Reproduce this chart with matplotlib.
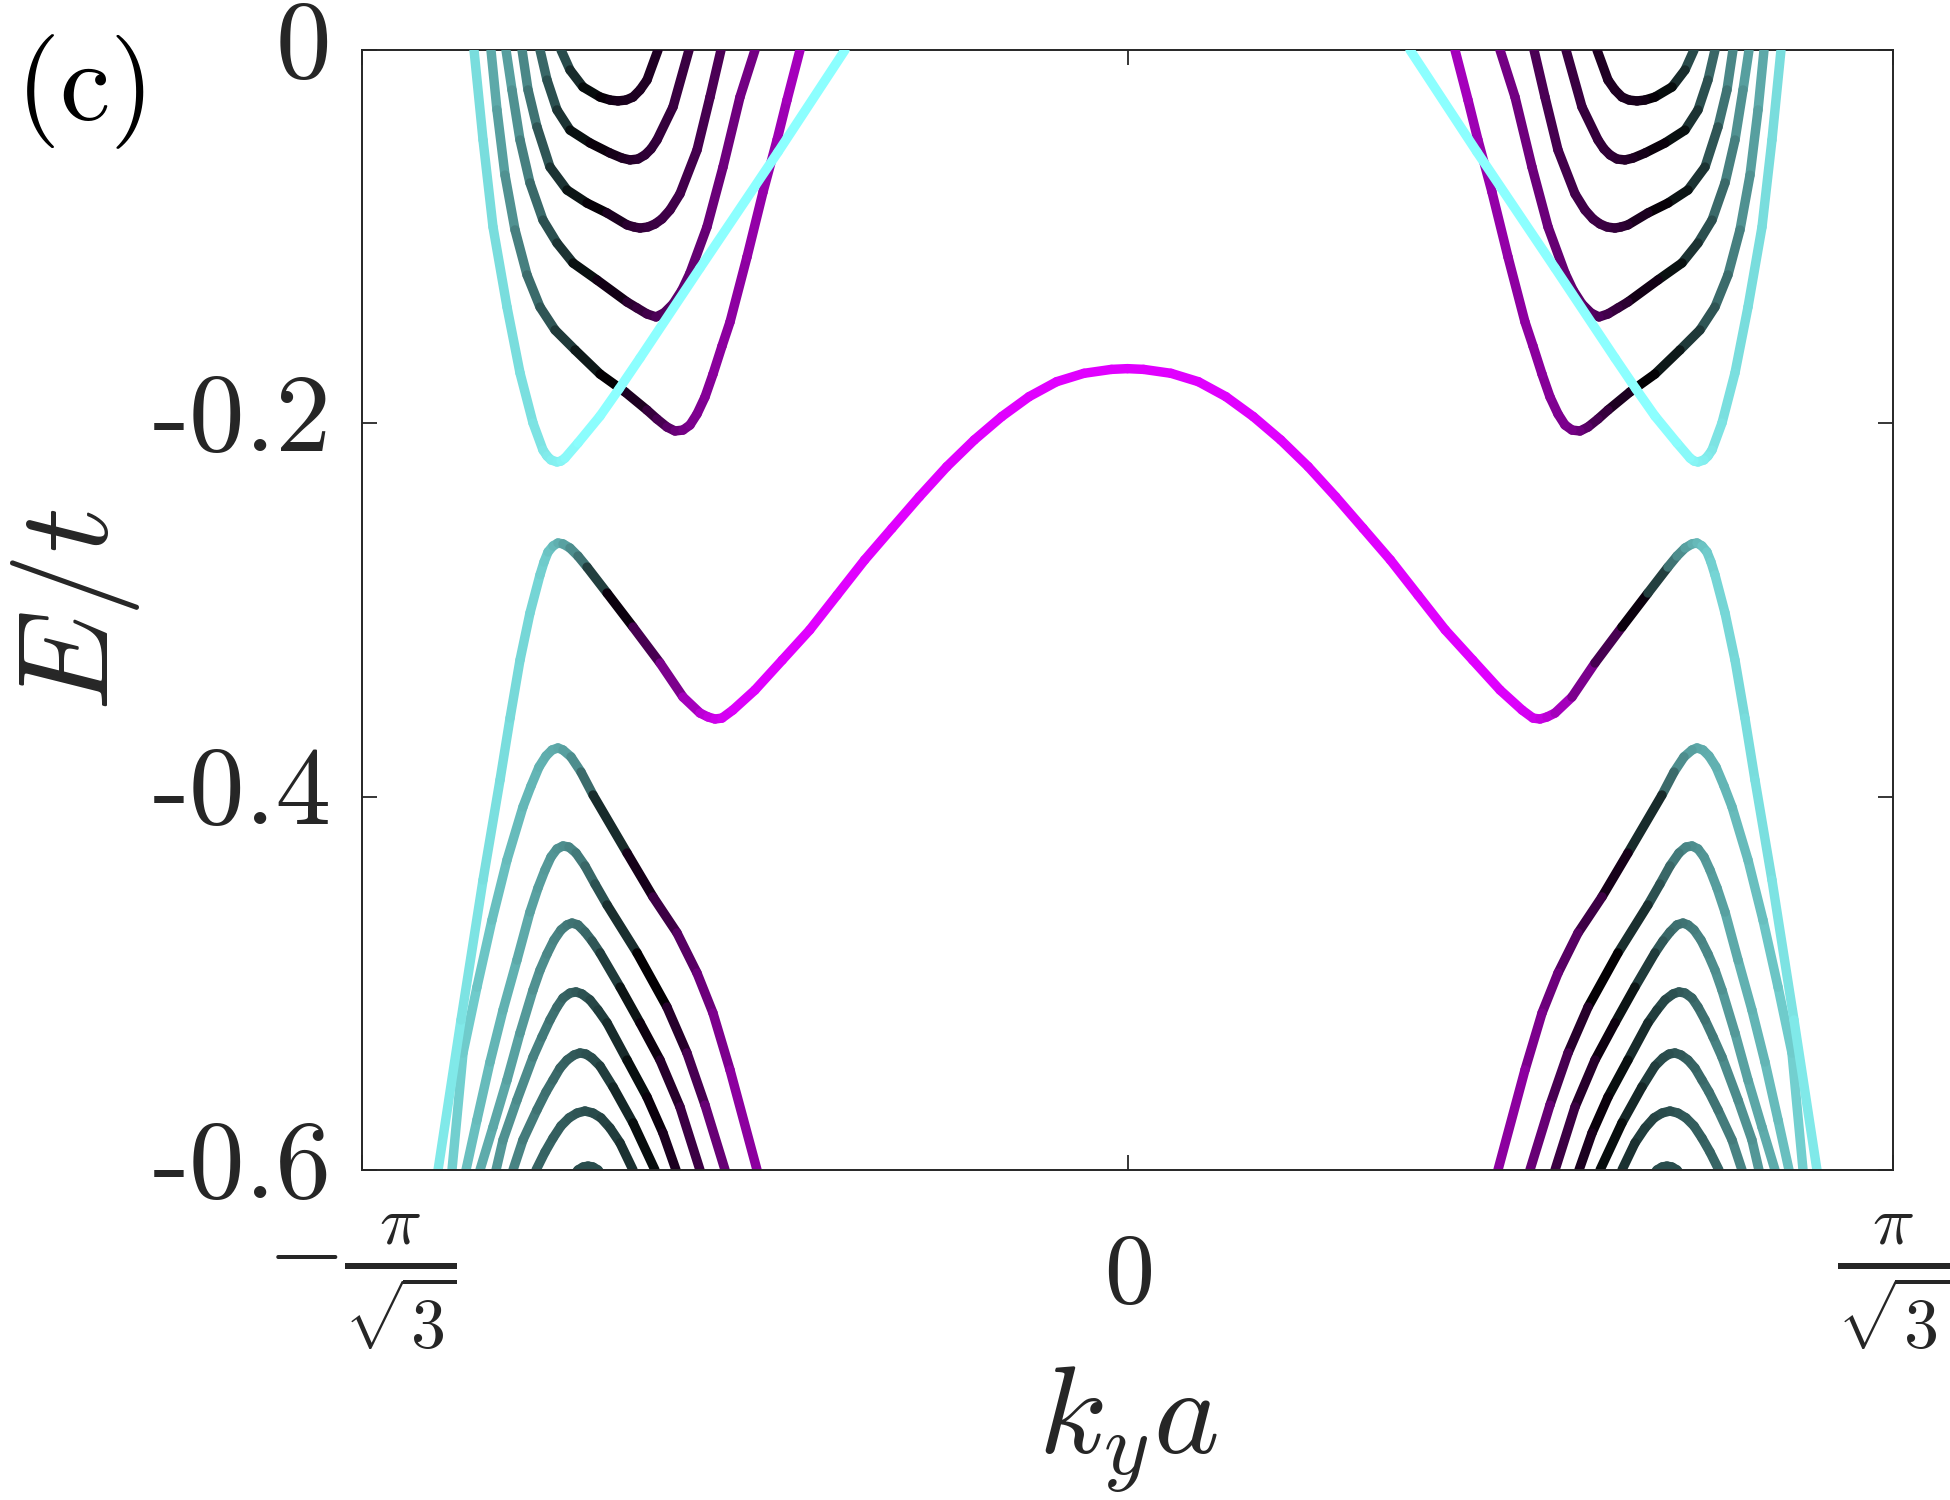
import numpy as np
import matplotlib
matplotlib.use('Agg')
import matplotlib.pyplot as plt
from matplotlib.collections import LineCollection
from matplotlib.colors import LinearSegmentedColormap, Normalize

plt.rcParams['mathtext.fontset'] = 'cm'
plt.rcParams['font.family'] = ['DejaVu Serif']

K_EDGE = np.pi / np.sqrt(3)

# ---- band data, left half (k_y a < 0); right half is the mirror image ----
# c = weight used for the colour (0 = cyan edge, 0.5 = bulk/black, 1 = magenta edge)

# upper bands (cut off at E = 0)
u1_k = [-1.5484, -1.5270, -1.5034, -1.4702, -1.4394, -1.4086, -1.3850, -1.3754, -1.3660, -1.3518,
        -1.3423, -1.3328, -1.3020, -1.2498, -1.2048, -1.1550, -1.0130, -0.8280, -0.6694]
u1_e = [0.0, -0.0482, -0.0948, -0.1377, -0.1730, -0.1998, -0.2143, -0.2175, -0.2196, -0.2207,
        -0.2202, -0.2186, -0.2105, -0.1961, -0.1816, -0.1650, -0.1168, -0.0546, 0.0]
u1_c = [0.07, 0.07, 0.07, 0.07, 0.07, 0.06, 0.05, 0.045, 0.04, 0.03, 0.025, 0.02, 0.01,
        0, 0, 0, 0, 0, 0]

u2_k = [-1.5082, -1.4940, -1.4750, -1.4512, -1.4228, -1.3920, -1.3564, -1.3090, -1.2498, -1.1906,
        -1.1385, -1.1148, -1.0911, -1.0722, -1.0532, -1.0366, -1.0200, -1.0011, -0.9821, -0.9608,
        -0.9418, -0.9016, -0.8636, -0.8304, -0.8068, -0.7760]
u2_e = [0.0, -0.0321, -0.0670, -0.0964, -0.1205, -0.1377, -0.1500, -0.1607, -0.1736, -0.1832,
        -0.1929, -0.1977, -0.2020, -0.2041, -0.2036, -0.2009, -0.1950, -0.1859, -0.1736, -0.1586,
        -0.1457, -0.1109, -0.0761, -0.0482, -0.0268, 0.0]
u2_c = [0.16, 0.18, 0.2, 0.23, 0.27, 0.31, 0.36, 0.42, 0.48, 0.53, 0.6, 0.64, 0.68, 0.72, 0.75,
        0.77, 0.78, 0.79, 0.8, 0.81, 0.81, 0.82, 0.83, 0.84, 0.86, 0.87]

u3_k = [-1.4726, -1.4584, -1.4394, -1.4158, -1.3850, -1.3518, -1.3138, -1.2570, -1.1858, -1.1622,
        -1.1385, -1.1172, -1.0982, -1.0769, -1.0556, -1.0366, -0.9964, -0.9584, -0.9182, -0.8826]
u3_e = [0.0, -0.0214, -0.0482, -0.0712, -0.0911, -0.1034, -0.1141, -0.1232, -0.1350, -0.1382,
        -0.1414, -0.1430, -0.1409, -0.1361, -0.1286, -0.1195, -0.0948, -0.0627, -0.0252, 0.0]
u3_c = [0.18, 0.2, 0.23, 0.27, 0.32, 0.37, 0.43, 0.5, 0.58, 0.61, 0.63, 0.66, 0.68, 0.7, 0.71,
        0.72, 0.73, 0.74, 0.75, 0.76]

u4_k = [-1.4346, -1.4204, -1.3992, -1.3684, -1.3280, -1.2806, -1.2332, -1.1858, -1.1693, -1.1550,
        -1.1361, -1.1195, -1.1030, -1.0840, -1.0604, -1.0200, -0.9892, -0.9632]
u4_e = [0.0, -0.0214, -0.0412, -0.0627, -0.0750, -0.0820, -0.0873, -0.0937, -0.0948, -0.0954,
        -0.0948, -0.0932, -0.0905, -0.0857, -0.0771, -0.0536, -0.0252, 0.0]
u4_c = [0.22, 0.25, 0.3, 0.37, 0.43, 0.49, 0.54, 0.58, 0.6, 0.61, 0.62, 0.63, 0.635, 0.64, 0.645,
        0.65, 0.66, 0.67]

u5_k = [-1.3920, -1.3754, -1.3518, -1.3210, -1.2736, -1.2262, -1.1977, -1.1788, -1.1598, -1.1432,
        -1.1290, -1.1148, -1.0768, -1.0390]
u5_e = [0.0, -0.0161, -0.0321, -0.0429, -0.0498, -0.0552, -0.0579, -0.0589, -0.0584, -0.0562,
        -0.0530, -0.0482, -0.0305, 0.0]
u5_c = [0.28, 0.32, 0.37, 0.43, 0.5, 0.54, 0.56, 0.58, 0.59, 0.6, 0.605, 0.61, 0.62, 0.63]

u6_k = [-1.3423, -1.3210, -1.2902, -1.2498, -1.2262, -1.2072, -1.1883, -1.1716, -1.1550, -1.1385,
        -1.1124]
u6_e = [0.0, -0.0107, -0.0198, -0.0252, -0.0268, -0.0273, -0.0268, -0.0252, -0.0214, -0.0161, 0.0]
u6_c = [0.33, 0.38, 0.45, 0.5, 0.53, 0.55, 0.555, 0.56, 0.565, 0.57, 0.57]

# middle band, left half up to k = 0
m_k = [-1.6336, -1.5792, -1.5270, -1.4868, -1.4630, -1.4394, -1.4158, -1.3920, -1.3825, -1.3730,
       -1.3612, -1.3494, -1.3375, -1.3210, -1.3020, -1.2806, -1.2332, -1.1716, -1.1076, -1.0532,
       -1.0130, -0.9940, -0.9774, -0.9608, -0.9350, -0.8828, -0.8179, -0.7530, -0.6881, -0.6229,
       -0.5580, -0.4931, -0.4281, -0.3630, -0.2981, -0.2331, -0.1680, -0.1031, -0.0381, 0.0]
m_e = [-0.6000, -0.5196, -0.4446, -0.3911, -0.3579, -0.3268, -0.3016, -0.2812, -0.2743, -0.2689,
       -0.2657, -0.2641, -0.2646, -0.2668, -0.2711, -0.2770, -0.2909, -0.3091, -0.3284, -0.3466,
       -0.3552, -0.3573, -0.3584, -0.3579, -0.3536, -0.3429, -0.3268, -0.3107, -0.2920, -0.2732,
       -0.2562, -0.2393, -0.2232, -0.2089, -0.1964, -0.1857, -0.1777, -0.1732, -0.1711, -0.1707]
m_c = [0.04, 0.05, 0.06, 0.07, 0.07, 0.08, 0.08, 0.09, 0.1, 0.11, 0.13, 0.15, 0.17, 0.2, 0.25,
       0.3, 0.45, 0.6, 0.72, 0.83, 0.9, 0.93, 0.95, 0.97, 0.98, 1, 1, 1, 1, 1, 1, 1, 1, 1, 1, 1,
       1, 1, 1, 1]

# lower bands (cut off at E = -0.6)
l1_k = [-1.6006, -1.5744, -1.5414, -1.5058, -1.4702, -1.4324, -1.4134, -1.3944, -1.3778, -1.3636,
        -1.3494, -1.3375, -1.3186, -1.2949, -1.2664, -1.1858, -1.1242, -1.0674, -1.0200, -0.9822,
        -0.9418, -0.8778]
l1_e = [-0.6, -0.5373, -0.5020, -0.4661, -0.4339, -0.4055, -0.3943, -0.3841, -0.3782, -0.3750,
        -0.3739, -0.3750, -0.3787, -0.3868, -0.3991, -0.4302, -0.4537, -0.4730, -0.4945, -0.5159,
        -0.5464, -0.6]
l1_c = [0.09, 0.1, 0.11, 0.12, 0.13, 0.14, 0.145, 0.15, 0.16, 0.165, 0.17, 0.18, 0.2, 0.25, 0.33,
        0.5, 0.6, 0.67, 0.72, 0.76, 0.79, 0.83]

l2_k = [-1.5674, -1.5414, -1.5104, -1.4796, -1.4466, -1.4158, -1.3968, -1.3802, -1.3660, -1.3518,
        -1.3375, -1.3233, -1.3067, -1.2854, -1.2617, -1.2332, -1.1622, -1.0912, -1.0438, -1.0010,
        -0.9536]
l2_e = [-0.6, -0.5732, -0.5421, -0.5143, -0.4875, -0.4618, -0.4489, -0.4393, -0.4323, -0.4280,
        -0.4264, -0.4270, -0.4302, -0.4371, -0.4468, -0.4580, -0.4837, -0.5127, -0.5373, -0.5652,
        -0.6]
l2_c = [0.12, 0.13, 0.14, 0.15, 0.16, 0.18, 0.19, 0.2, 0.205, 0.21, 0.22, 0.23, 0.25, 0.28, 0.32,
        0.36, 0.46, 0.55, 0.62, 0.7, 0.76]

l3_k = [-1.5342, -1.5034, -1.4702, -1.4394, -1.4086, -1.3920, -1.3754, -1.3588, -1.3423, -1.3280,
        -1.3162, -1.3020, -1.2854, -1.2688, -1.2498, -1.2024, -1.1550, -1.1076, -1.0604, -1.0130]
l3_e = [-0.6, -0.5770, -0.5518, -0.5266, -0.5036, -0.4929, -0.4843, -0.4768, -0.4714, -0.4687,
        -0.4677, -0.4687, -0.4725, -0.4773, -0.4837, -0.5020, -0.5212, -0.5411, -0.5662, -0.6]
l3_c = [0.16, 0.17, 0.18, 0.19, 0.21, 0.22, 0.23, 0.24, 0.25, 0.26, 0.27, 0.28, 0.29, 0.31, 0.35,
        0.42, 0.5, 0.56, 0.61, 0.65]

l4_k = [-1.4962, -1.4796, -1.4466, -1.4086, -1.3873, -1.3684, -1.3518, -1.3375, -1.3210, -1.3067,
        -1.2925, -1.2736, -1.2546, -1.2332, -1.1858, -1.1385, -1.1006, -1.0698]
l4_e = [-0.6, -0.5839, -0.5625, -0.5395, -0.5287, -0.5196, -0.5127, -0.5079, -0.5052, -0.5046,
        -0.5057, -0.5089, -0.5143, -0.5212, -0.5411, -0.5609, -0.5802, -0.6]
l4_c = [0.2, 0.21, 0.22, 0.24, 0.255, 0.27, 0.285, 0.3, 0.31, 0.32, 0.33, 0.35, 0.37, 0.39, 0.44,
        0.5, 0.54, 0.58]

l5_k = [-1.4560, -1.4324, -1.3992, -1.3778, -1.3612, -1.3446, -1.3280, -1.3115, -1.2972, -1.2831,
        -1.2688, -1.2498, -1.2190, -1.1716, -1.1196]
l5_e = [-0.6, -0.5839, -0.5678, -0.5582, -0.5518, -0.5454, -0.5411, -0.5384, -0.5373, -0.5379,
        -0.5400, -0.5443, -0.5555, -0.5748, -0.6]
l5_c = [0.24, 0.25, 0.27, 0.28, 0.29, 0.3, 0.31, 0.32, 0.33, 0.34, 0.35, 0.36, 0.4, 0.45, 0.5]

l6_k = [-1.4014, -1.3802, -1.3612, -1.3423, -1.3233, -1.3043, -1.2854, -1.2664, -1.2475, -1.2262,
        -1.2024, -1.1716]
l6_e = [-0.6, -0.5904, -0.5829, -0.5764, -0.5721, -0.5695, -0.5684, -0.5695, -0.5721, -0.5775,
        -0.5855, -0.6]
l6_c = [0.3, 0.305, 0.31, 0.315, 0.32, 0.33, 0.34, 0.35, 0.36, 0.375, 0.39, 0.42]

l7_k = [-1.3328, -1.3162, -1.3020, -1.2901, -1.2782, -1.2664, -1.2546, -1.2404, -1.2238]
l7_e = [-0.6107, -0.6043, -0.6, -0.5984, -0.5979, -0.5984, -0.6, -0.6043, -0.6107]
l7_c = [0.35, 0.35, 0.35, 0.35, 0.35, 0.35, 0.35, 0.35, 0.35]

ytick_vals = [-0.6, -0.4, -0.2, 0]
ytick_labels = ['-0.6', '-0.4', '-0.2', '0']
xtick_vals = [-K_EDGE, 0, K_EDGE]
xtick_labels = [r'$-\frac{\pi}{\sqrt{3}}$', r'$0$', r'$\frac{\pi}{\sqrt{3}}$']

cmap = LinearSegmentedColormap.from_list('edge', ['#8CFFFF', '#000000', '#E000FF'])
norm = Normalize(0, 1)

fig = plt.figure(figsize=(19.5, 15), dpi=100)
ax = fig.add_axes([362 / 1950, 330 / 1500, 1531 / 1950, 1120 / 1500])


def draw(k, e, c, z):
    pts = np.column_stack([k, e]).reshape(-1, 1, 2)
    segs = np.concatenate([pts[:-1], pts[1:]], axis=1)
    c = np.asarray(c, float)
    lc = LineCollection(segs, cmap=cmap, norm=norm, linewidths=6.8,
                        capstyle='round', joinstyle='round', zorder=z)
    lc.set_array(0.5 * (c[:-1] + c[1:]))
    ax.add_collection(lc)


def draw_pair(k, e, c, z):
    k = np.asarray(k, float)
    draw(k, e, c, z)
    draw(-k, e, c, z)


# lower bands
for i, (k, e, c) in enumerate([(l7_k, l7_e, l7_c), (l6_k, l6_e, l6_c), (l5_k, l5_e, l5_c),
                               (l4_k, l4_e, l4_c), (l3_k, l3_e, l3_c), (l2_k, l2_e, l2_c),
                               (l1_k, l1_e, l1_c)]):
    draw_pair(k, e, c, 2 + i * 0.01)

# middle band: left half + mirrored right half
mk = np.asarray(m_k, float)
draw(np.concatenate([mk, -mk[-2::-1]]), m_e + m_e[-2::-1], m_c + m_c[-2::-1], 2.2)

# upper bands, cyan one on top
for i, (k, e, c) in enumerate([(u6_k, u6_e, u6_c), (u5_k, u5_e, u5_c), (u4_k, u4_e, u4_c),
                               (u3_k, u3_e, u3_c), (u2_k, u2_e, u2_c), (u1_k, u1_e, u1_c)]):
    draw_pair(k, e, c, 3 + i * 0.01)

ax.set_xlim(-K_EDGE, K_EDGE)
ax.set_ylim(-0.6, 0)
ax.set_xticks(xtick_vals)
ax.set_xticklabels(xtick_labels, fontsize=72)
ax.set_yticks(ytick_vals)
ax.set_yticklabels(ytick_labels, fontfamily='cmr10', fontsize=80)

dark = '#262626'
for sp in ax.spines.values():
    sp.set_linewidth(1.4)
    sp.set_color(dark)
ax.tick_params(direction='in', length=11, width=1.3, top=True, right=True, colors=dark)
ax.tick_params(axis='y', pad=22)
for lbl in ax.get_yticklabels():
    lbl.set_verticalalignment('center')
for lbl in ax.get_xticklabels():
    lbl.set_verticalalignment('top')
xt = ax.xaxis.get_major_ticks()
xt[0].set_pad(30)
xt[1].set_pad(42)
xt[2].set_pad(30)

fig.text(75 / 1950, 1 - 610 / 1500, r'$E/t$', rotation=90, ha='center', va='center',
         fontsize=92, color=dark)
fig.text(1128 / 1950, 1 - 1430 / 1500, r'$k_ya$', ha='center', va='center',
         fontsize=90, color=dark)
fig.text(80 / 1950, 1 - 92 / 1500, r'$\mathrm{(c)}$', ha='center', va='center',
         fontsize=82, color='black')

fig.savefig('out.png', dpi=100, facecolor='white')
